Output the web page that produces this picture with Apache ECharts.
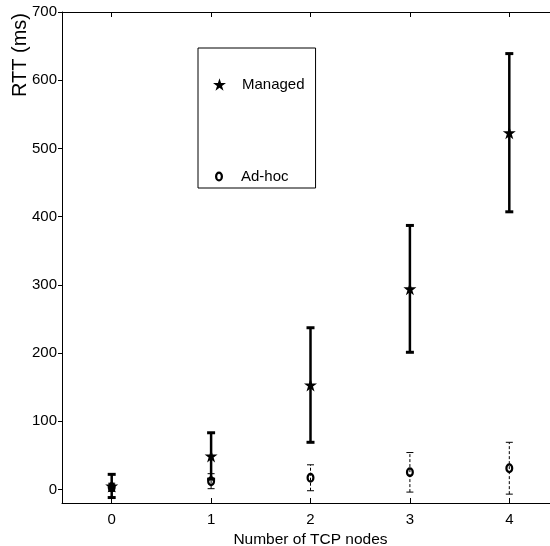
<!DOCTYPE html>
<html>
<head>
<meta charset="utf-8">
<script src="https://cdn.jsdelivr.net/npm/echarts@6/dist/echarts.min.js"></script>
<style>
html,body{margin:0;padding:0;background:#fff;}
#c{width:550px;height:546px;}
</style>
</head>
<body>
<div id="c"></div>
<script>
// ---- data ----
var nodes = [0, 1, 2, 3, 4];
var managedMean = [5, 49, 153, 294, 523];
var managedErr = [17, 34, 84, 93, 116];
var adhocMean = [3, 12, 17, 25, 31];
var adhocErr = [6, 11, 19, 29, 38];
var xTicks = [0, 1, 2, 3, 4];
var yTicks = [0, 100, 200, 300, 400, 500, 600, 700];

var FONT = 'Liberation Sans, Arial, Helvetica, sans-serif';
var STAR = 'path://M0,-1 L0.2245,-0.309 L0.951,-0.309 L0.363,0.118 L0.588,0.809 L0,0.382 L-0.588,0.809 L-0.363,0.118 L-0.951,-0.309 L-0.2245,-0.309 Z';
var RING = 'path://M0,-5 A4,5 0 1,1 0,5 A4,5 0 1,1 0,-5 Z M0,-2.7 A1.8,2.7 0 1,0 0,2.7 A1.8,2.7 0 1,0 0,-2.7 Z';

function pts(mean) { return nodes.map(function (x, i) { return [x, mean[i]]; }); }
function errData(mean, err) { return nodes.map(function (x, i) { return [x, mean[i] - err[i], mean[i] + err[i]]; }); }

function errRender(lineW, capW, capLW, dash) {
  return function (params, api) {
    var x = api.value(0), lo = api.value(1), hi = api.value(2);
    var pLo = api.coord([x, lo]), pHi = api.coord([x, hi]);
    var st = { stroke: '#000', lineWidth: lineW, lineDash: dash || null };
    var cs = { stroke: '#000', lineWidth: capLW };
    return {
      type: 'group',
      children: [
        { type: 'line', shape: { x1: pLo[0], y1: pLo[1], x2: pHi[0], y2: pHi[1] }, style: st },
        { type: 'line', shape: { x1: pLo[0] - capW / 2, y1: pLo[1], x2: pLo[0] + capW / 2, y2: pLo[1] }, style: cs },
        { type: 'line', shape: { x1: pHi[0] - capW / 2, y1: pHi[1], x2: pHi[0] + capW / 2, y2: pHi[1] }, style: cs }
      ]
    };
  };
}

var chart = echarts.init(document.getElementById('c'), null, { renderer: 'canvas' });
chart.setOption({
  animation: false,
  backgroundColor: '#fff',
  textStyle: { fontFamily: FONT },
  grid: { left: 62, top: 12, width: 497, bottom: 43, containLabel: false, outerBoundsMode: 'none' },
  xAxis: [{
    type: 'value', min: -0.5, max: 4.5,
    name: 'Number of TCP nodes', nameLocation: 'middle', nameGap: 24,
    nameTextStyle: { fontFamily: FONT, fontSize: 15.5, color: '#000' },
    axisLine: { show: true, onZero: false, lineStyle: { color: '#000', width: 1 } },
    axisTick: { show: true, inside: true, length: 5, customValues: xTicks, lineStyle: { color: '#000' } },
    axisLabel: { customValues: xTicks, margin: 9, fontFamily: FONT, fontSize: 15, color: '#000' },
    splitLine: { show: false }
  }, {
    type: 'value', min: -0.5, max: 4.5, position: 'top',
    axisLine: { show: true, onZero: false, lineStyle: { color: '#000', width: 1 } },
    axisTick: { show: true, inside: true, length: 5, customValues: xTicks, lineStyle: { color: '#000' } },
    axisLabel: { show: false },
    splitLine: { show: false }
  }],
  yAxis: [{
    type: 'value', min: -20, max: 700,
    axisLine: { show: true, onZero: false, lineStyle: { color: '#000', width: 1 } },
    axisTick: { show: true, inside: false, length: 4, customValues: yTicks, lineStyle: { color: '#000' } },
    axisLabel: { customValues: yTicks, margin: 5, fontFamily: FONT, fontSize: 15, color: '#000' },
    splitLine: { show: false }
  }],
  graphic: [{
    type: 'text', x: 30, y: 13, rotation: Math.PI / 2,
    style: { text: 'RTT (ms)', font: '20px ' + FONT, fill: '#000', textAlign: 'right', textVerticalAlign: 'bottom' }
  }],
  legend: [{
    data: ['Managed'], orient: 'vertical', left: 198, top: 48,
    padding: [29, 11, 96, 15], itemGap: 0,
    itemWidth: 13, itemHeight: 13,
    borderColor: '#000', borderWidth: 1, backgroundColor: '#fff',
    textStyle: { fontFamily: FONT, fontSize: 15, color: '#000', padding: [0, 0, 0, 11] }
  }, {
    data: ['Ad-hoc'], orient: 'vertical', left: 198, top: 169,
    padding: [0, 9, 0, 17], itemGap: 0,
    itemWidth: 8, itemHeight: 10,
    textStyle: { fontFamily: FONT, fontSize: 15, color: '#000', padding: [0, 0, 0, 13] }
  }],
  series: [{
    name: 'Ad-hoc err', type: 'custom', renderItem: errRender(1, 7, 1, [3, 2]),
    data: errData(adhocMean, adhocErr), encode: { x: 0, y: [1, 2] }, z: 1, silent: true
  }, {
    name: 'Managed err', type: 'custom', renderItem: errRender(2.5, 8, 3),
    data: errData(managedMean, managedErr), encode: { x: 0, y: [1, 2] }, z: 2, silent: true
  }, {
    name: 'Ad-hoc', type: 'scatter', data: pts(adhocMean), symbol: RING, symbolSize: [8, 10],
    itemStyle: { color: '#000', opacity: 1 }, z: 3
  }, {
    name: 'Managed', type: 'scatter', data: pts(managedMean), symbol: STAR, symbolSize: 13,
    itemStyle: { color: '#000', opacity: 1 }, z: 4
  }]
});
</script>
</body>
</html>
